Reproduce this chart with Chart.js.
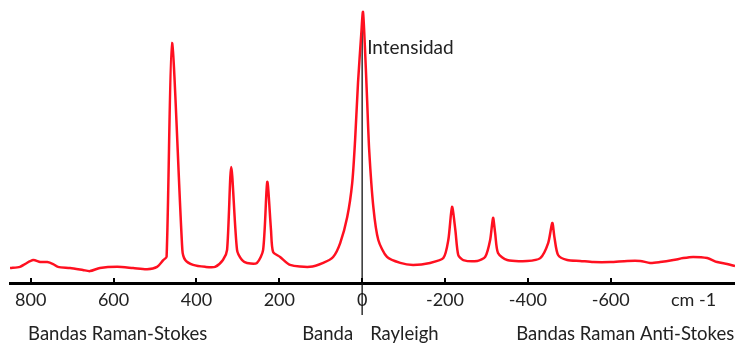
<!DOCTYPE html>
<html>
<head>
<meta charset="utf-8">
<script src="https://cdn.jsdelivr.net/npm/chart.js@4/dist/chart.umd.min.js"></script>
<style>
html, body { margin: 0; padding: 0; background: #fff; }
#wrap { width: 735px; height: 343px; }
</style>
</head>
<body>
<div id="wrap"><canvas id="chart"></canvas></div>
<script>
// Raman shift (cm-1) and relative intensity
const shifts = [850, 826, 814, 794, 777, 760, 746, 734, 705, 674, 657, 633, 591, 553, 519, 495, 480, 472,
    459, 434, 427, 408, 379, 355, 336, 326, 316, 302, 290, 278, 254, 239, 229, 220, 215, 198, 174,
    126, 94, 70, 53, 36, 24, 17, 10, 2, -2, -7, -12, -17, -27, -39, -60, -92, -123, -164,
    -196, -208, -217, -225, -232, -244, -278, -297, -309, -316, -321, -328, -350, -398,
    -430, -449, -459, -464, -473, -495, -526, -558, -599, -640, -671, -695, -719, -751,
    -775, -799, -833, -857, -881, -900];
const intensity = [5.3, 5.7, 6.7, 8.1, 7.4, 7.4, 6.7, 5.7, 5.3, 4.6, 4.2, 5.3, 5.7, 5.3, 4.9, 5.7, 8.1, 9.3,
    84.8, 11.7, 8.1, 6.4, 5.7, 5.7, 8.1, 11.7, 41.0, 11.7, 8.1, 7.1, 7.1, 11.7, 35.7, 18.7, 11.0, 9.2, 6.4,
    5.7, 7.1, 9.2, 14.1, 23.3, 35.3, 50.5, 70.7, 88.3, 95.8, 82.3, 64.7, 47.0, 26.9, 15.2, 9.2, 7.1, 6.4, 7.1,
    8.8, 15.2, 26.9, 18.7, 9.9, 8.1, 7.8, 9.2, 15.2, 23.0, 17.7, 10.6, 8.1, 7.8,
    8.8, 14.1, 21.2, 16.3, 9.9, 8.1, 7.8, 7.4, 7.4, 7.8, 7.8, 7.1, 7.4, 8.1,
    8.8, 9.2, 8.8, 7.4, 6.7, 6.0];

const xTicks = [800, 600, 400, 200, 0, -200, -400, -600];
const unitTick = -800;          // the unit label sits where -800 would be
const unitLabel = 'cm -1';
const bandNames = ['Bandas Raman-Stokes', 'Bandas Raman Anti-Stokes'];
const bandCentres = [590, -635];
const rayleighWords = ['Banda', 'Rayleigh'];
const yTitle = 'Intensidad';

const FONT = 'Lato, "Open Sans", sans-serif';

const ramanAxes = {
    id: 'ramanAxes',
    beforeDatasetsDraw(chart) {
        const ctx = chart.ctx;
        const x = chart.scales.x;
        const x0 = x.getPixelForValue(0);
        ctx.save();
        // vertical intensity axis, runs a little past the zero label
        ctx.strokeStyle = '#111';
        ctx.lineWidth = 1.3;
        ctx.beginPath();
        ctx.moveTo(x0, 20);
        ctx.lineTo(x0, x.top + 32);
        ctx.stroke();

        // small tick marks pointing up from the axis
        ctx.strokeStyle = '#000';
        ctx.lineWidth = 2;
        ctx.beginPath();
        xTicks.forEach((v) => {
            const p = Math.round(x.getPixelForValue(v));
            ctx.moveTo(p, x.top - 5);
            ctx.lineTo(p, x.top);
        });
        ctx.stroke();
        ctx.restore();
    },
    afterDraw(chart) {
        const ctx = chart.ctx;
        const x = chart.scales.x;
        const x0 = x.getPixelForValue(0);
        const yBand = x.top + 51;
        ctx.save();
        ctx.fillStyle = '#222';
        ctx.font = '18.5px ' + FONT;
        ctx.textBaseline = 'middle';
        ctx.textAlign = 'center';
        bandNames.forEach((name, i) => {
            ctx.fillText(name, x.getPixelForValue(bandCentres[i]), yBand);
        });
        ctx.textAlign = 'right';
        ctx.fillText(rayleighWords[0], x0 - 9, yBand);
        ctx.textAlign = 'left';
        ctx.fillText(rayleighWords[1], x0 + 8, yBand);
        ctx.font = '19px ' + FONT;
        ctx.fillText(yTitle, x0 + 5, chart.chartArea.top + 48);
        ctx.restore();
    }
};

new Chart(document.getElementById('chart'), {
    type: 'line',
    data: {
        datasets: [{
            data: shifts.map((s, i) => ({ x: s, y: intensity[i] })),
            borderColor: '#ff1020',
            borderWidth: 2.5,
            pointRadius: 0,
            fill: false,
            tension: 0.25
        }]
    },
    options: {
        animation: false,
        responsive: true,
        maintainAspectRatio: false,
        layout: { padding: { left: 10, right: 0, top: 0, bottom: 0 } },
        plugins: { legend: { display: false }, tooltip: { enabled: false } },
        scales: {
            x: {
                type: 'linear',
                reverse: true,
                min: -900,
                max: 850,
                grid: { display: false, drawTicks: false },
                border: { display: true, color: '#000', width: 3 },
                afterBuildTicks: (scale) => {
                    scale.ticks = xTicks.concat([unitTick]).map((v) => ({ value: v }));
                },
                afterFit: (scale) => { scale.height = 60; },
                ticks: {
                    autoSkip: false,
                    maxRotation: 0,
                    padding: 6,
                    color: '#222',
                    font: { family: FONT, size: 18 },
                    callback: (v) => (v === unitTick ? unitLabel : String(v))
                }
            },
            y: {
                display: false,
                min: 0,
                max: 100
            }
        }
    },
    plugins: [ramanAxes]
});
</script>
</body>
</html>
